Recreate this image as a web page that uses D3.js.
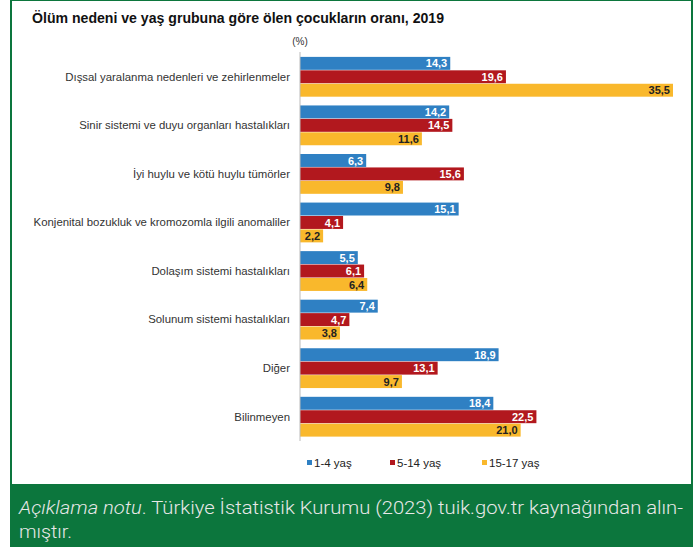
<!DOCTYPE html>
<html>
<head>
<meta charset="utf-8">
<script src="https://cdn.jsdelivr.net/npm/d3@7"></script>
<style>
  body { margin: 0; background: #fff; }
  svg { display: block; }
</style>
</head>
<body>
<div id="canvas"></div>
<script>
// data
var categories = [
  "Dışsal yaralanma nedenleri ve zehirlenmeler",
  "Sinir sistemi ve duyu organları hastalıkları",
  "İyi huylu ve kötü huylu tümörler",
  "Konjenital bozukluk ve kromozomla ilgili anomaliler",
  "Dolaşım sistemi hastalıkları",
  "Solunum sistemi hastalıkları",
  "Diğer",
  "Bilinmeyen"
];
var seriesNames = ["1-4 yaş", "5-14 yaş", "15-17 yaş"];
var age1_4   = [14.3, 14.2, 6.3, 15.1, 5.5, 7.4, 18.9, 18.4];
var age5_14  = [19.6, 14.5, 15.6, 4.1, 6.1, 4.7, 13.1, 22.5];
var age15_17 = [35.5, 11.6, 9.8, 2.2, 6.4, 3.8, 9.7, 21.0];
var series = [age1_4, age5_14, age15_17];

var colors = ["#2f80c3", "#b2181e", "#f9b82c"];
var labelColors = ["#fff", "#fff", "#222"];

var W = 694, H = 547;
var svg = d3.select('#canvas').append('svg')
    .attr('width', W).attr('height', H);

// frame + caption band
svg.append('rect').attr('x', 11).attr('y', 0).attr('width', 681).attr('height', 547)
    .attr('fill', '#fff').attr('stroke', '#0c763d').attr('stroke-width', 2);
svg.append('rect').attr('x', 11).attr('y', 484).attr('width', 681).attr('height', 63)
    .attr('fill', '#0c763d');

// title
svg.append('text').attr('x', 32).attr('y', 23)
    .style('font-family', 'Liberation Sans, Arial, sans-serif')
    .style('font-weight', 'bold').style('font-size', '14px').attr('fill', '#111')
    .attr('textLength', 412).attr('lengthAdjust', 'spacingAndGlyphs')
    .text('Ölüm nedeni ve yaş grubuna göre ölen çocukların oranı, 2019');
svg.append('text').attr('x', 300).attr('y', 45).attr('text-anchor', 'middle')
    .style('font-family', 'Liberation Sans, Arial, sans-serif')
    .style('font-size', '10px').attr('fill', '#333')
    .text('(%)');

// scales
var x = d3.scaleLinear().domain([0, 35.5]).range([300, 673]);
var y0 = d3.scaleBand().domain(categories).range([53, 441])
    .paddingInner(0.17).paddingOuter(0.08);
var y1 = d3.scaleBand().domain(d3.range(3)).range([0, y0.bandwidth()]);

var plot = svg.append('g');

var groups = plot.selectAll('.grp').data(categories).enter()
    .append('g').attr('class', 'grp')
    .attr('transform', function(d){ return 'translate(0,' + y0(d) + ')'; });

groups.selectAll('rect').data(function(d, i){
        return series.map(function(s, k){ return {k: k, v: s[i]}; });
    }).enter().append('rect')
    .attr('x', x(0))
    .attr('y', function(d){ return y1(d.k); })
    .attr('width', function(d){ return x(d.v) - x(0); })
    .attr('height', y1.bandwidth() - 0.5)
    .attr('fill', function(d){ return colors[d.k]; });

groups.selectAll('.val').data(function(d, i){
        return series.map(function(s, k){ return {k: k, v: s[i]}; });
    }).enter().append('text').attr('class', 'val')
    .attr('x', function(d){ return x(d.v) - 3; })
    .attr('y', function(d){ return y1(d.k) + y1.bandwidth() / 2; })
    .attr('dy', '0.35em').attr('text-anchor', 'end')
    .style('font-family', 'Liberation Sans, Arial, sans-serif')
    .style('font-weight', 'bold').style('font-size', '11px')
    .attr('fill', function(d){ return labelColors[d.k]; })
    .text(function(d){ return d3.format('.1f')(d.v).replace('.', ','); });

// category axis
var yAxis = d3.axisLeft(y0).tickSize(0).tickPadding(10);
var ax = plot.append('g').attr('transform', 'translate(300,0)').call(yAxis);
ax.select('.domain').attr('stroke', '#bbb').attr('d', 'M0,52V441');
ax.selectAll('text')
    .style('font-family', 'Liberation Sans, Arial, sans-serif')
    .style('font-size', '11.4px').attr('fill', '#333');

// legend
var legX = [307, 390, 482];
var leg = svg.append('g').selectAll('g').data(seriesNames).enter().append('g')
    .attr('transform', function(d, i){ return 'translate(' + legX[i] + ',463)'; });
leg.append('rect').attr('x', 0).attr('y', -3).attr('width', 5).attr('height', 5)
    .attr('fill', function(d, i){ return colors[i]; });
leg.append('text').attr('x', 7).attr('y', 0).attr('dy', '0.35em')
    .style('font-family', 'Liberation Sans, Arial, sans-serif')
    .style('font-size', '11.5px').attr('fill', '#222')
    .text(function(d){ return d; });

// caption
var cap = svg.append('text').attr('x', 19).attr('y', 514)
    .style('font-family', 'Roboto, sans-serif').style('font-size', '18.5px')
    .style('font-weight', 300).attr('fill', '#e8e8e8')
    .attr('textLength', 664).attr('lengthAdjust', 'spacingAndGlyphs');
cap.append('tspan').style('font-style', 'italic').text('Açıklama notu');
cap.append('tspan').text('. Türkiye İstatistik Kurumu (2023) tuik.gov.tr kaynağından alın-');
svg.append('text').attr('x', 19).attr('y', 538)
    .style('font-family', 'Roboto, sans-serif').style('font-size', '18.5px')
    .style('font-weight', 300).attr('fill', '#e8e8e8')
    .attr('textLength', 53).attr('lengthAdjust', 'spacingAndGlyphs')
    .text('mıştır.');
</script>
</body>
</html>
